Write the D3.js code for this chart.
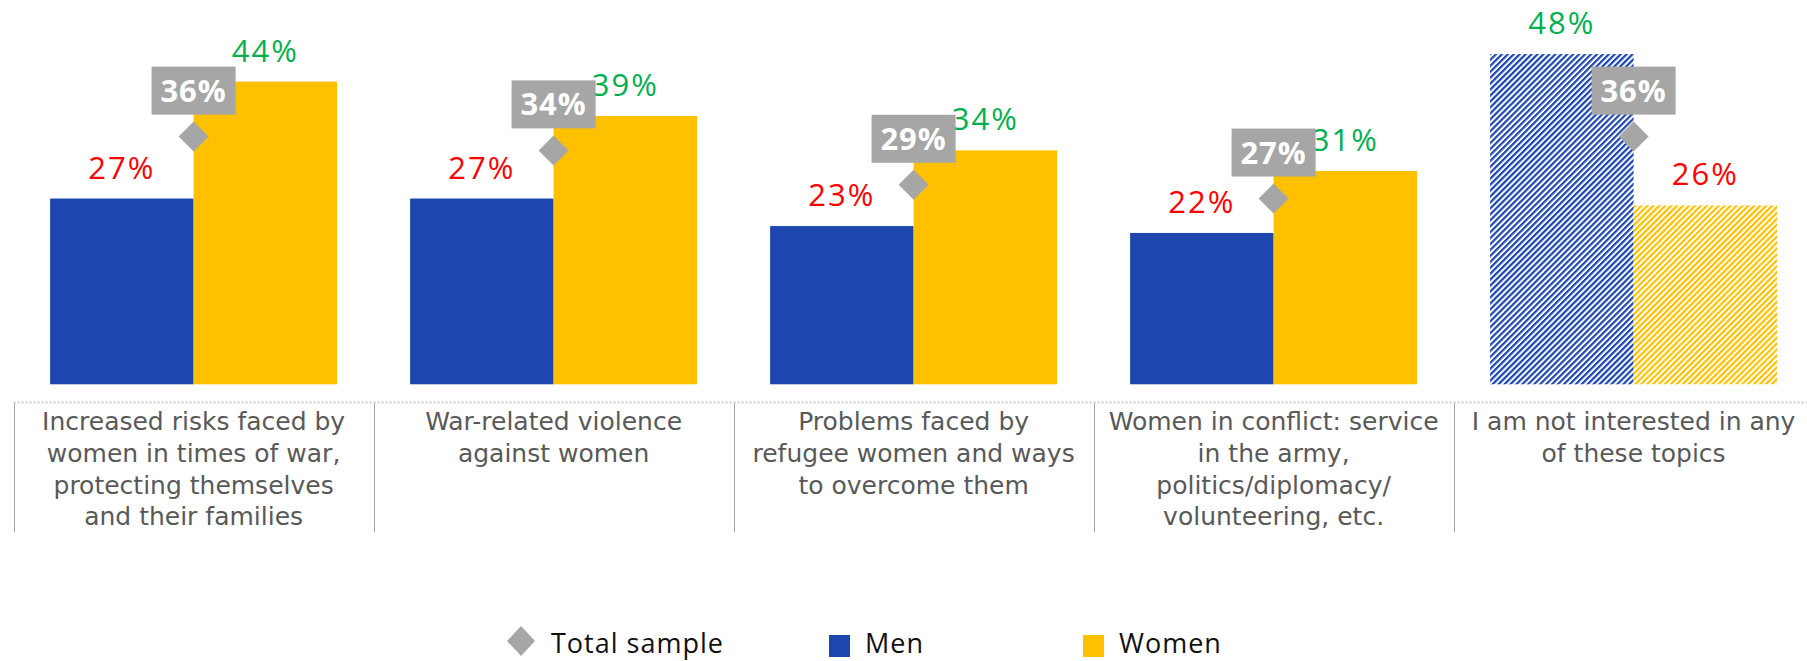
<!DOCTYPE html>
<html>
<head>
<meta charset="utf-8">
<script src="https://cdn.jsdelivr.net/npm/d3@7"></script>
<style>
  html, body { margin: 0; padding: 0; background: #fff; }
  svg { display: block; font-family: "Open Sans", "Noto Sans", sans-serif; }
</style>
</head>
<body>
<svg id="chart" width="1807" height="661"></svg>
<script>
// ---- data ----
const categories = [
  "Increased risks faced by women in times of war, protecting themselves and their families",
  "War-related violence against women",
  "Problems faced by refugee women and ways to overcome them",
  "Women in conflict: service in the army, politics/diplomacy/ volunteering, etc.",
  "I am not interested in any of these topics"
];
const categoryLines = [
  ["Increased risks faced by", "women in times of war,", "protecting themselves", "and their families"],
  ["War-related violence", "against women"],
  ["Problems faced by", "refugee women and ways", "to overcome them"],
  ["Women in conflict: service", "in the army,", "politics/diplomacy/", "volunteering, etc."],
  ["I am not interested in any", "of these topics"]
];
const menValues   = [27, 27, 23, 22, 48];
const womenValues = [44, 39, 34, 31, 26];
const totalValues = [36, 34, 29, 27, 36];
const hatched     = [false, false, false, false, true];
const seriesNames = ["Men", "Women"];
const legendLabels = ["Total sample", "Men", "Women"];

// ---- styles ----
const colors = { Men: "#1D47AF", Women: "#FFC000", total: "#A6A6A6" };
const up = "#00B050", down = "#FF0000";

const svg = d3.select("#chart");
const defs = svg.append("defs");
seriesNames.forEach(s => {
  const p = defs.append("pattern")
    .attr("id", "hatch-" + s)
    .attr("patternUnits", "userSpaceOnUse")
    .attr("width", 4.2).attr("height", 4.2)
    .attr("patternTransform", "rotate(45)");
  p.append("rect").attr("width", 4.2).attr("height", 4.2).attr("fill", "#fff");
  p.append("rect").attr("width", 2.2).attr("height", 4.2).attr("fill", colors[s]);
});

const x0 = d3.scaleBand().domain(categories).range([13.6, 1813.6]).paddingInner(0).paddingOuter(0);
const x1 = d3.scaleBand().domain(seriesNames).range([0, x0.bandwidth()]).paddingInner(0).paddingOuter(0.2544);
const y = d3.scaleLinear().domain([0, 50]).range([384.3, 40.3]);

const rows = categories.map((c, i) => ({
  cat: c, i, Men: menValues[i], Women: womenValues[i], total: totalValues[i], hatched: hatched[i], lines: categoryLines[i]
}));

// bars
const groups = svg.append("g").selectAll("g").data(rows).join("g")
  .attr("transform", d => `translate(${x0(d.cat)},0)`);

groups.selectAll("rect.bar").data(d => seriesNames.map(s => ({ s, v: d[s], h: d.hatched })))
  .join("rect").attr("class", "bar")
  .attr("x", d => x1(d.s))
  .attr("width", x1.bandwidth())
  .attr("y", d => y(d.v))
  .attr("height", d => y(0) - y(d.v))
  .attr("fill", d => d.h ? `url(#hatch-${d.s})` : colors[d.s]);

groups.selectAll("text.val").data(d => seriesNames.map(s => ({ s, v: d[s], other: d[s === "Men" ? "Women" : "Men"] })))
  .join("text").attr("class", "val")
  .attr("x", d => x1(d.s) + x1.bandwidth() / 2)
  .attr("y", d => y(d.v) - 20)
  .attr("text-anchor", "middle")
  .attr("font-size", 31)
  .attr("letter-spacing", 2)
  .attr("fill", d => d.v >= d.other ? up : down)
  .text(d => d.v + "%");

// total diamond + label box
const cx = x0.bandwidth() / 2;
groups.append("path")
  .attr("d", d => { const yy = y(d.total), r = 15; return `M${cx},${yy - r}L${cx + r},${yy}L${cx},${yy + r}L${cx - r},${yy}Z`; })
  .attr("fill", colors.total);
groups.append("rect")
  .attr("x", cx - 42).attr("width", 84)
  .attr("y", d => y(d.total) - 70).attr("height", 48)
  .attr("fill", colors.total);
groups.append("text")
  .attr("x", cx).attr("y", d => y(d.total) - 35)
  .attr("text-anchor", "middle")
  .attr("font-size", 31).attr("font-weight", 700)
  .attr("letter-spacing", 1)
  .attr("fill", "#fff")
  .text(d => d.total + "%");

// axis: dotted line and dividers
svg.append("line")
  .attr("x1", x0.range()[0]).attr("x2", 1807)
  .attr("y1", 402.5).attr("y2", 402.5)
  .attr("stroke", "#CFCFCF").attr("stroke-width", 2).attr("stroke-dasharray", "2,2");
svg.append("g").selectAll("line").data(categories).join("line")
  .attr("x1", d => Math.round(x0(d)) + 0.5).attr("x2", d => Math.round(x0(d)) + 0.5)
  .attr("y1", 403).attr("y2", 532)
  .attr("stroke", "#A6A6A6").attr("stroke-width", 1);

// category labels
groups.append("text")
  .attr("text-anchor", "middle")
  .attr("font-family", "'DejaVu Sans', sans-serif")
  .attr("font-size", 25)
  .attr("fill", "#595959")
  .selectAll("tspan").data(d => d.lines).join("tspan")
  .attr("x", cx)
  .attr("y", (d, i) => 430 + i * 31.8)
  .text(d => d);

// legend
const legend = svg.append("g").attr("font-size", 27).attr("letter-spacing", 1).attr("fill", "#111");
legend.append("path").attr("d", "M521,626L535,641L521,656L507,641Z").attr("fill", colors.total);
legend.append("text").attr("x", 551).attr("y", 653).text(legendLabels[0]);
legend.append("rect").attr("x", 829).attr("y", 635).attr("width", 21).attr("height", 22).attr("fill", colors.Men);
legend.append("text").attr("x", 865).attr("y", 653).text(legendLabels[1]);
legend.append("rect").attr("x", 1083).attr("y", 635).attr("width", 21).attr("height", 22).attr("fill", colors.Women);
legend.append("text").attr("x", 1119).attr("y", 653).text(legendLabels[2]);
</script>
</body>
</html>
